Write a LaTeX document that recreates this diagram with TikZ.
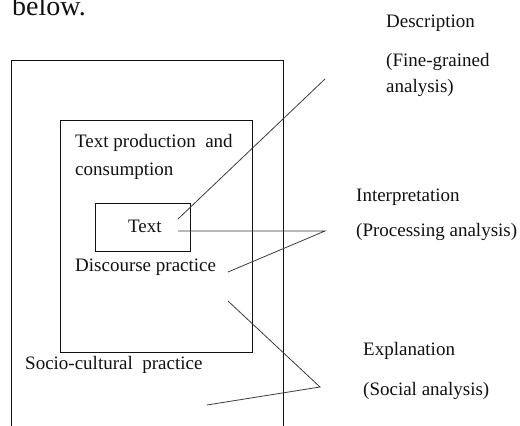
\documentclass[tikz,border=0pt]{standalone}
\usepackage{fontspec}
\setmainfont{Liberation Serif}
\usepackage{xcolor}
\definecolor{Ink}{HTML}{111111}
\definecolor{Lead}{HTML}{3A3A3A}
\usepackage{tikz}
\tikzset{
  frame/.style={draw=Ink,line width=0.8pt},
  lbl/.style={anchor=base west,inner sep=0pt,text=Ink,
    font=\fontsize{19}{24}\selectfont},
  link/.style={draw=Lead,line width=0.8pt}
}

\begin{document}
\begin{tikzpicture}[x=1pt,y=1pt]
  \useasboundingbox (0,0) rectangle (520,426);
  \node[lbl,font=\fontsize{28}{32}\selectfont] (below) at (12,410) {below.};
  % nested boxes, the outer one runs off the page at the bottom
  \draw[frame] (11,0) |- (283,366) -- (283,0);
  \draw[frame] (60,74) rectangle (252,306);
  \draw[frame] (95,175) rectangle (190,223);
  % texts inside the boxes
  \node[lbl] (prod) at (75,278) {Text production\ \ and};
  \node[lbl] (cons) at (75,250) {consumption};
  \node[lbl] (text) at (128,193) {Text};
  \node[lbl] (disc) at (75,154) {Discourse practice};
  \node[lbl] (socio) at (25,56) {Socio-cultural\ \ practice};
  % the three kinds of analysis
  \node[lbl] (desc) at (386,398) {Description};
  \node[lbl] (fine) at (386,359) {(Fine-grained};
  \node[lbl] (finetwo) at (386,333) {analysis)};
  \node[lbl] (interp) at (356,224) {Interpretation};
  \node[lbl] (proc) at (356,189) {(Processing analysis)};
  \node[lbl] (expl) at (363,70) {Explanation};
  \node[lbl] (social) at (363,30) {(Social analysis)};
  % end points of the leader lines
  \coordinate (descA) at (178,207);
  \coordinate (descB) at (325,347);
  \coordinate (interpA) at (178,195);
  \coordinate (interpB) at (325,195);
  \coordinate (interpC) at (228,154);
  \coordinate (explA) at (228,125);
  \coordinate (explB) at (320,39);
  \coordinate (explC) at (207,21);
  \draw[link] (descA) -- (descB);
  \draw[link] (interpA) -- (interpB) -- (interpC);
  \draw[link] (explA) -- (explB) -- (explC);
\end{tikzpicture}
\end{document}
